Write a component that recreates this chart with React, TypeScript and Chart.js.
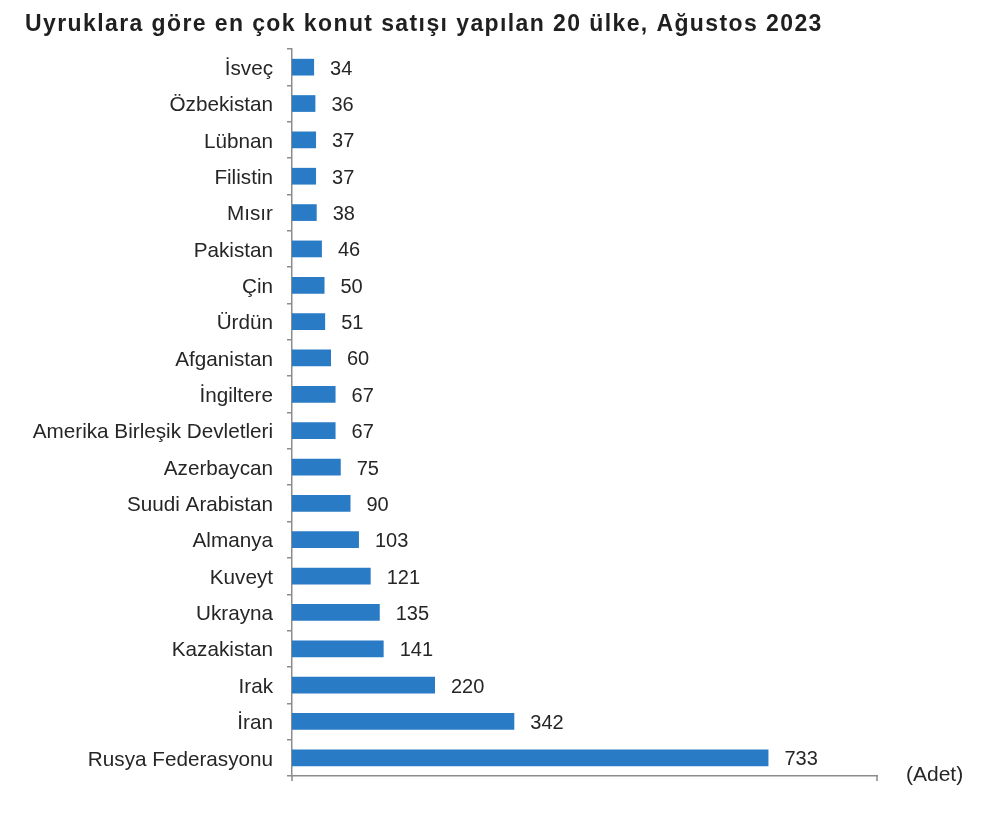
import React, { useEffect, useRef } from "react";
import { Chart, registerables } from "chart.js";

Chart.register(...registerables);

const titleText = "Uyruklara göre en çok konut satışı yapılan 20 ülke, Ağustos 2023";
const unitText = "(Adet)";
const categories = [
  "İsveç",
  "Özbekistan",
  "Lübnan",
  "Filistin",
  "Mısır",
  "Pakistan",
  "Çin",
  "Ürdün",
  "Afganistan",
  "İngiltere",
  "Amerika Birleşik Devletleri",
  "Azerbaycan",
  "Suudi Arabistan",
  "Almanya",
  "Kuveyt",
  "Ukrayna",
  "Kazakistan",
  "Irak",
  "İran",
  "Rusya Federasyonu",
];
const values = [34, 36, 37, 37, 38, 46, 50, 51, 60, 67, 67, 75, 90, 103, 121, 135, 141, 220, 342, 733];
const axisMin = 0;
const axisMax = 900;

const FONT = "'Liberation Sans', Arial, sans-serif";
const TEXT = "#262626";
const AXIS = "#8c8c8c";
const BAR = "#2a7bc6";

const extrasPlugin = {
  id: "extras",
  afterDraw(chart: any) {
    const { ctx, chartArea } = chart;
    ctx.save();
    // title
    ctx.fillStyle = "#1f1f1f";
    ctx.font = `bold 23px ${FONT}`;
    (ctx as any).letterSpacing = "1.4px";
    ctx.textAlign = "left";
    ctx.textBaseline = "middle";
    ctx.fillText(titleText, 25, 25);
    (ctx as any).letterSpacing = "0px";
    // unit
    ctx.font = `21px ${FONT}`;
    ctx.fillStyle = TEXT;
    ctx.fillText(unitText, 906, chartArea.bottom - 1);
    // end ticks on x axis
    ctx.strokeStyle = AXIS;
    ctx.lineWidth = 1.5;
    ctx.beginPath();
    ctx.moveTo(chartArea.right, chartArea.bottom);
    ctx.lineTo(chartArea.right, chartArea.bottom + 5);
    ctx.moveTo(chartArea.left, chartArea.bottom);
    ctx.lineTo(chartArea.left, chartArea.bottom + 5);
    ctx.stroke();
    // data labels
    const meta = chart.getDatasetMeta(0);
    ctx.font = `20px ${FONT}`;
    ctx.fillStyle = TEXT;
    meta.data.forEach((bar: any, i: number) => {
      ctx.fillText(String(values[i]), bar.x + 16, bar.y + 2);
    });
    ctx.restore();
  },
};

export default function App() {
  const ref = useRef<HTMLCanvasElement>(null);
  useEffect(() => {
    document.body.style.margin = "0";
    const chart = new Chart(ref.current!, {
      type: "bar",
      data: {
        labels: categories,
        datasets: [
          {
            data: values,
            backgroundColor: BAR,
            barPercentage: 0.46,
            categoryPercentage: 1,
          },
        ],
      },
      options: {
        indexAxis: "y",
        animation: false,
        responsive: false,
        devicePixelRatio: 1,
        layout: { padding: { top: 49, right: 123, bottom: 39, left: 0 } },
        plugins: { legend: { display: false }, tooltip: { enabled: false }, title: { display: false } },
        scales: {
          x: {
            min: axisMin,
            max: axisMax,
            ticks: { display: false },
            grid: { display: false },
            border: { display: true, color: AXIS, width: 1.5 },
            afterFit: (s: any) => {
              s.height = 0;
            },
          },
          y: {
            ticks: { font: { size: 20.7, family: FONT }, color: TEXT, padding: 14, labelOffset: 2 },
            grid: { display: true, drawOnChartArea: false, offset: true, tickLength: 5, color: AXIS, lineWidth: 1.5 },
            border: { display: true, color: AXIS, width: 1.5 },
            afterFit: (s: any) => {
              s.width = 292;
            },
          },
        },
      },
      plugins: [extrasPlugin],
    });
    return () => chart.destroy();
  }, []);
  return (
    <div style={{ position: "absolute", left: 0, top: 0, width: 1000, height: 815, background: "#fff" }}>
      <canvas ref={ref} width={1000} height={815} />
    </div>
  );
}
